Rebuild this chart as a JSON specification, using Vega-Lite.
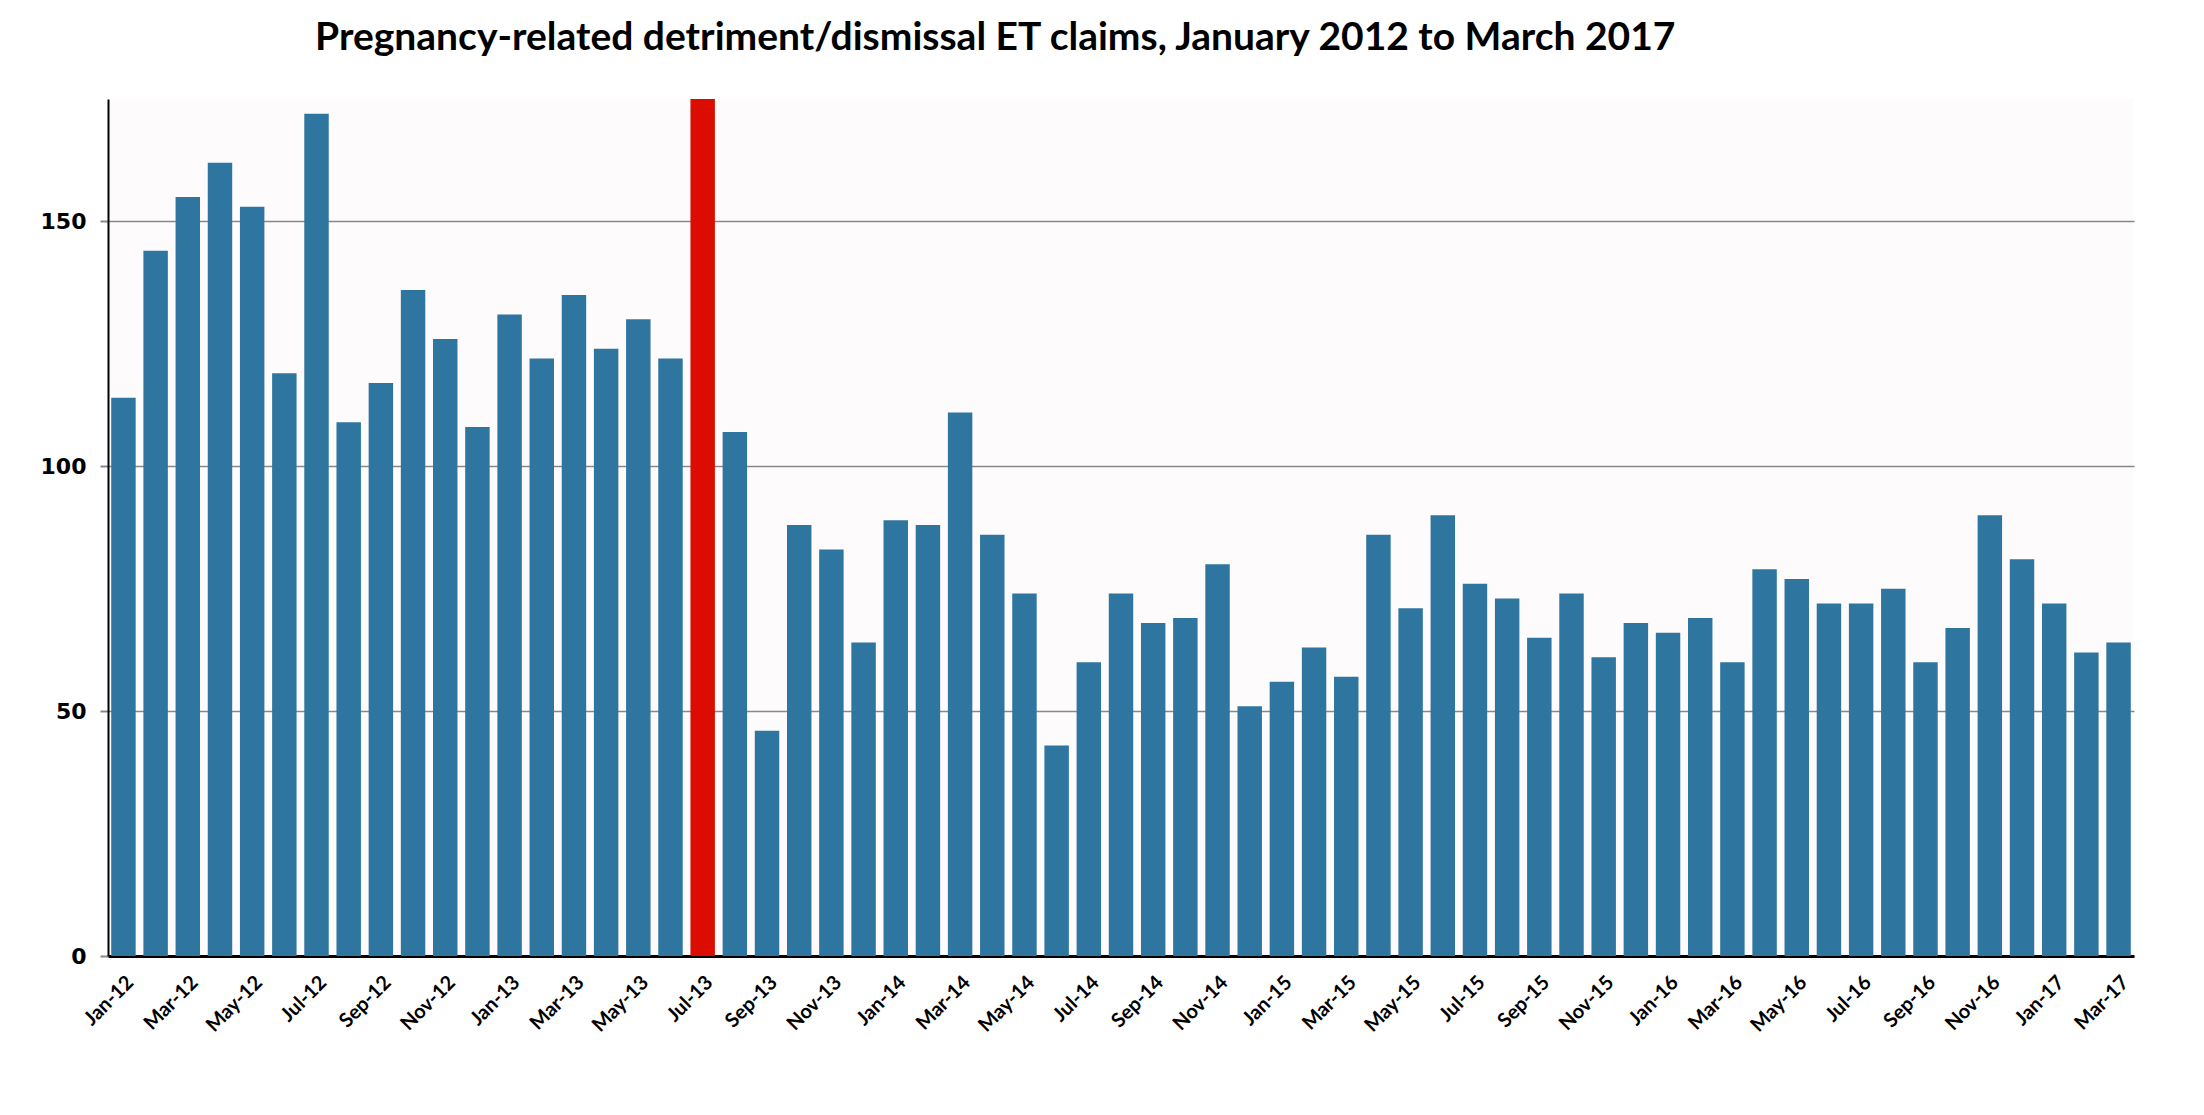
{
  "$schema": "https://vega.github.io/schema/vega-lite/v6.json",
  "autosize": "none",
  "padding": {"left": 108, "top": 99, "right": 70, "bottom": 159},
  "width": 2026,
  "height": 857,
  "background": "white",
  "title": {
    "text": "Pregnancy-related detriment/dismissal ET claims, January 2012 to March 2017",
    "font": "Lato",
    "fontWeight": "bold",
    "fontSize": 39,
    "color": "black",
    "anchor": "start",
    "dx": 275,
    "offset": 41
  },
  "data": {
    "values": [
      {"month": "Jan-12", "claims": 114, "highlight": "no"},
      {"month": "Feb-12", "claims": 144, "highlight": "no"},
      {"month": "Mar-12", "claims": 155, "highlight": "no"},
      {"month": "Apr-12", "claims": 162, "highlight": "no"},
      {"month": "May-12", "claims": 153, "highlight": "no"},
      {"month": "Jun-12", "claims": 119, "highlight": "no"},
      {"month": "Jul-12", "claims": 172, "highlight": "no"},
      {"month": "Aug-12", "claims": 109, "highlight": "no"},
      {"month": "Sep-12", "claims": 117, "highlight": "no"},
      {"month": "Oct-12", "claims": 136, "highlight": "no"},
      {"month": "Nov-12", "claims": 126, "highlight": "no"},
      {"month": "Dec-12", "claims": 108, "highlight": "no"},
      {"month": "Jan-13", "claims": 131, "highlight": "no"},
      {"month": "Feb-13", "claims": 122, "highlight": "no"},
      {"month": "Mar-13", "claims": 135, "highlight": "no"},
      {"month": "Apr-13", "claims": 124, "highlight": "no"},
      {"month": "May-13", "claims": 130, "highlight": "no"},
      {"month": "Jun-13", "claims": 122, "highlight": "no"},
      {"month": "Jul-13", "claims": 175, "highlight": "yes"},
      {"month": "Aug-13", "claims": 107, "highlight": "no"},
      {"month": "Sep-13", "claims": 46, "highlight": "no"},
      {"month": "Oct-13", "claims": 88, "highlight": "no"},
      {"month": "Nov-13", "claims": 83, "highlight": "no"},
      {"month": "Dec-13", "claims": 64, "highlight": "no"},
      {"month": "Jan-14", "claims": 89, "highlight": "no"},
      {"month": "Feb-14", "claims": 88, "highlight": "no"},
      {"month": "Mar-14", "claims": 111, "highlight": "no"},
      {"month": "Apr-14", "claims": 86, "highlight": "no"},
      {"month": "May-14", "claims": 74, "highlight": "no"},
      {"month": "Jun-14", "claims": 43, "highlight": "no"},
      {"month": "Jul-14", "claims": 60, "highlight": "no"},
      {"month": "Aug-14", "claims": 74, "highlight": "no"},
      {"month": "Sep-14", "claims": 68, "highlight": "no"},
      {"month": "Oct-14", "claims": 69, "highlight": "no"},
      {"month": "Nov-14", "claims": 80, "highlight": "no"},
      {"month": "Dec-14", "claims": 51, "highlight": "no"},
      {"month": "Jan-15", "claims": 56, "highlight": "no"},
      {"month": "Feb-15", "claims": 63, "highlight": "no"},
      {"month": "Mar-15", "claims": 57, "highlight": "no"},
      {"month": "Apr-15", "claims": 86, "highlight": "no"},
      {"month": "May-15", "claims": 71, "highlight": "no"},
      {"month": "Jun-15", "claims": 90, "highlight": "no"},
      {"month": "Jul-15", "claims": 76, "highlight": "no"},
      {"month": "Aug-15", "claims": 73, "highlight": "no"},
      {"month": "Sep-15", "claims": 65, "highlight": "no"},
      {"month": "Oct-15", "claims": 74, "highlight": "no"},
      {"month": "Nov-15", "claims": 61, "highlight": "no"},
      {"month": "Dec-15", "claims": 68, "highlight": "no"},
      {"month": "Jan-16", "claims": 66, "highlight": "no"},
      {"month": "Feb-16", "claims": 69, "highlight": "no"},
      {"month": "Mar-16", "claims": 60, "highlight": "no"},
      {"month": "Apr-16", "claims": 79, "highlight": "no"},
      {"month": "May-16", "claims": 77, "highlight": "no"},
      {"month": "Jun-16", "claims": 72, "highlight": "no"},
      {"month": "Jul-16", "claims": 72, "highlight": "no"},
      {"month": "Aug-16", "claims": 75, "highlight": "no"},
      {"month": "Sep-16", "claims": 60, "highlight": "no"},
      {"month": "Oct-16", "claims": 67, "highlight": "no"},
      {"month": "Nov-16", "claims": 90, "highlight": "no"},
      {"month": "Dec-16", "claims": 81, "highlight": "no"},
      {"month": "Jan-17", "claims": 72, "highlight": "no"},
      {"month": "Feb-17", "claims": 62, "highlight": "no"},
      {"month": "Mar-17", "claims": 64, "highlight": "no"}
    ]
  },
  "mark": {"type": "bar", "clip": true},
  "encoding": {
    "x": {
      "field": "month",
      "type": "ordinal",
      "sort": null,
      "scale": {"paddingInner": 0.24, "paddingOuter": 0.1},
      "axis": {
        "title": null,
        "values": ["Jan-12","Mar-12","May-12","Jul-12","Sep-12","Nov-12","Jan-13","Mar-13","May-13","Jul-13","Sep-13","Nov-13","Jan-14","Mar-14","May-14","Jul-14","Sep-14","Nov-14","Jan-15","Mar-15","May-15","Jul-15","Sep-15","Nov-15","Jan-16","Mar-16","May-16","Jul-16","Sep-16","Nov-16","Jan-17","Mar-17"],
        "labelAngle": -45,
        "labelFont": "Lato",
        "labelFontWeight": "bold",
        "labelFontSize": 20,
        "labelColor": "black",
        "labelPadding": 16,
        "ticks": false,
        "domainColor": "black",
        "domainWidth": 3,
        "grid": false
      }
    },
    "y": {
      "field": "claims",
      "type": "quantitative",
      "scale": {"domain": [0, 175], "nice": false},
      "axis": {
        "title": null,
        "values": [0, 50, 100, 150],
        "labelFont": "DejaVu Sans",
        "labelFontWeight": "bold",
        "labelFontSize": 22,
        "labelColor": "black",
        "labelPadding": 14,
        "tickSize": 8,
        "tickColor": "#888888",
        "tickWidth": 2,
        "domainColor": "black",
        "domainWidth": 2,
        "grid": true,
        "gridColor": "#888888",
        "gridWidth": 1.5
      }
    },
    "color": {
      "field": "highlight",
      "type": "nominal",
      "scale": {"domain": ["no", "yes"], "range": ["#2E76A0", "#DA0D00"]},
      "legend": null
    }
  },
  "config": {
    "view": {"stroke": null, "fill": "#FEFBFC"},
    "axisY": {"zindex": 0}
  }
}
